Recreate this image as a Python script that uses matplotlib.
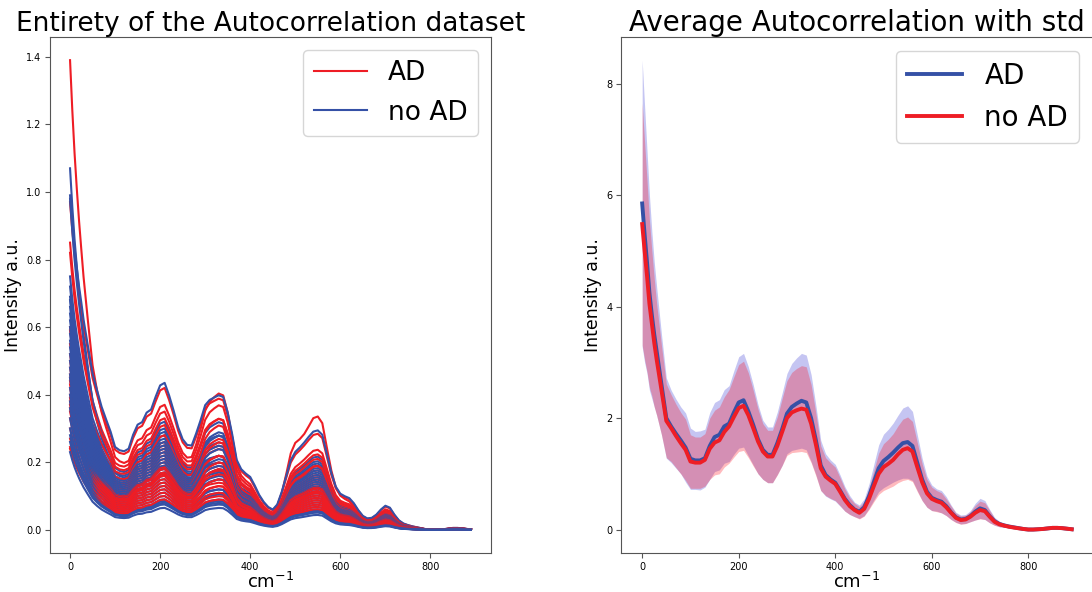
import numpy as np
import matplotlib
matplotlib.use("Agg")
import matplotlib.pyplot as plt

# ---------------- data ----------------
# wavenumber sampling (cm^-1)
wavenumber = np.concatenate([[0, 5, 10, 15, 20, 25, 30], np.arange(40, 900, 10)])

# right panel: class means and standard deviations
ad_mean = [5.85, 5.3, 4.8, 4.25, 3.85, 3.5, 3.2,
           2.6, 2.0, 1.85, 1.72, 1.6, 1.47, 1.27, 1.24, 1.24, 1.28,
           1.5, 1.66, 1.7, 1.85, 1.9, 2.1, 2.28, 2.32, 2.12, 1.88,
           1.62, 1.43, 1.34, 1.34, 1.55, 1.8, 2.08, 2.2, 2.26, 2.31,
           2.28, 2.0, 1.6, 1.15, 0.98, 0.9, 0.84, 0.7, 0.55, 0.44,
           0.36, 0.32, 0.4, 0.6, 0.85, 1.1, 1.23, 1.3, 1.38, 1.47,
           1.55, 1.57, 1.5, 1.2, 0.9, 0.68, 0.57, 0.53, 0.5, 0.42,
           0.31, 0.22, 0.18, 0.19, 0.24, 0.32, 0.38, 0.35, 0.24, 0.15,
           0.1, 0.075, 0.055, 0.04, 0.025, 0.01, 0.0, 0.0, 0.005, 0.01,
           0.02, 0.03, 0.03, 0.025, 0.015, 0.005]
ad_std = [2.57, 2.3, 2.0, 1.75, 1.5, 1.3, 1.15,
          0.9, 0.72, 0.65, 0.62, 0.6, 0.62, 0.55, 0.52, 0.53, 0.52,
          0.6, 0.62, 0.63, 0.66, 0.68, 0.75, 0.82, 0.84, 0.8, 0.72,
          0.62, 0.53, 0.5, 0.5, 0.56, 0.65, 0.72, 0.78, 0.82, 0.85,
          0.85, 0.78, 0.62, 0.45, 0.38, 0.35, 0.33, 0.28, 0.22, 0.17,
          0.13, 0.12, 0.15, 0.22, 0.32, 0.42, 0.48, 0.5, 0.53, 0.58,
          0.63, 0.65, 0.62, 0.5, 0.38, 0.28, 0.23, 0.2, 0.2, 0.17,
          0.13, 0.09, 0.08, 0.08, 0.1, 0.15, 0.18, 0.17, 0.12, 0.07,
          0.05, 0.035, 0.025, 0.018, 0.012, 0.008, 0.005, 0.005, 0.005, 0.006,
          0.008, 0.01, 0.01, 0.008, 0.006, 0.005]
noad_mean = [5.48, 5.0, 4.55, 4.05, 3.7, 3.35, 3.05,
             2.5, 1.95, 1.82, 1.68, 1.55, 1.43, 1.22, 1.2, 1.2, 1.25,
             1.45, 1.56, 1.6, 1.75, 1.85, 2.02, 2.18, 2.22, 2.05, 1.82,
             1.58, 1.4, 1.31, 1.31, 1.5, 1.75, 2.0, 2.1, 2.14, 2.17,
             2.15, 1.9, 1.52, 1.1, 0.95, 0.88, 0.82, 0.68, 0.53, 0.42,
             0.35, 0.3, 0.37, 0.55, 0.78, 1.0, 1.12, 1.18, 1.25, 1.35,
             1.43, 1.46, 1.4, 1.12, 0.85, 0.65, 0.55, 0.51, 0.48, 0.4,
             0.3, 0.21, 0.17, 0.18, 0.23, 0.3, 0.35, 0.33, 0.23, 0.14,
             0.095, 0.07, 0.05, 0.035, 0.022, 0.01, 0.0, 0.0, 0.005, 0.01,
             0.02, 0.03, 0.03, 0.025, 0.015, 0.005]
noad_std = [2.17, 1.95, 1.72, 1.5, 1.3, 1.15, 1.0,
            0.8, 0.66, 0.6, 0.57, 0.55, 0.55, 0.48, 0.46, 0.46, 0.47,
            0.55, 0.58, 0.6, 0.63, 0.66, 0.72, 0.78, 0.8, 0.76, 0.68,
            0.58, 0.5, 0.47, 0.47, 0.52, 0.6, 0.67, 0.72, 0.75, 0.77,
            0.77, 0.7, 0.56, 0.4, 0.34, 0.32, 0.3, 0.25, 0.2, 0.15,
            0.12, 0.11, 0.13, 0.19, 0.28, 0.37, 0.42, 0.44, 0.47, 0.51,
            0.55, 0.56, 0.54, 0.44, 0.33, 0.25, 0.21, 0.19, 0.18, 0.15,
            0.12, 0.085, 0.075, 0.075, 0.09, 0.13, 0.16, 0.15, 0.11, 0.065,
            0.045, 0.03, 0.022, 0.016, 0.011, 0.007, 0.005, 0.005, 0.005, 0.006,
            0.008, 0.01, 0.01, 0.008, 0.006, 0.005]

# left panel: individual spectra described by their start value (x=0),
# the height of the 210 cm^-1 band, and extra heights at 335 and 545 cm^-1
front_shape = [1.0, 0.86, 0.74, 0.64, 0.55, 0.47, 0.4, 0.28, 0.17, 0.11, 0.07,
               0.045, 0.025, 0.012, 0.005] + [0.0] * 78
band_front = [0.9, 0.9, 0.9, 0.9, 0.9, 0.9, 0.88, 0.86, 0.83]
mid_shape = [0.0] * 29 + [0.0, 0.05, 0.15, 0.35, 0.6, 0.8, 0.92, 1.0, 0.98, 0.8,
                          0.5, 0.25, 0.12, 0.06, 0.03, 0.0] + [0.0] * 48
bump_shape = [0.0] * 49 + [0.05, 0.15, 0.35, 0.6, 0.72, 0.72, 0.75, 0.85,
                           0.98, 1.0, 0.9, 0.62, 0.38, 0.2, 0.12, 0.08, 0.05, 0.02] + [0.0] * 26

ad_start = [1.39, 0.97, 0.85, 0.82, 0.60, 0.59, 0.55, 0.52, 0.50, 0.48, 0.46, 0.45, 0.44,
            0.43, 0.42, 0.40, 0.39, 0.38, 0.37, 0.36, 0.35, 0.33, 0.30, 0.27, 0.245, 0.24]
ad_peak = [0.37, 0.42, 0.35, 0.33, 0.31, 0.28, 0.26, 0.25, 0.24, 0.23, 0.22, 0.21, 0.20,
           0.19, 0.185, 0.18, 0.17, 0.165, 0.16, 0.15, 0.14, 0.13, 0.12, 0.11, 0.10, 0.09]
ad_mid = [0.035, -0.03, 0.02, 0.0, 0.02, 0.03, -0.01, 0.02, 0.0, 0.03, -0.02, 0.01, 0.02,
          0.0, -0.01, 0.02, 0.01, 0.0, 0.02, -0.01, 0.01, 0.0, 0.01, 0.0, 0.0, 0.0]
ad_bump = [0.085, 0.0, 0.0, 0.0, 0.0, 0.0, 0.0, 0.02, 0.0, 0.0, 0.0, 0.0, 0.0,
           0.0, 0.0, 0.0, 0.0, 0.0, 0.0, 0.0, 0.0, 0.0, 0.0, 0.0, 0.0, 0.0]

noad_start = [1.07, 0.99, 0.98, 0.75, 0.72, 0.69, 0.68, 0.66, 0.64, 0.62, 0.60, 0.58, 0.56, 0.54,
              0.52, 0.50, 0.48, 0.46, 0.45, 0.42, 0.40, 0.38, 0.36, 0.33, 0.30, 0.28, 0.26, 0.23]
noad_peak = [0.29, 0.435, 0.32, 0.30, 0.28, 0.27, 0.26, 0.25, 0.24, 0.23, 0.22, 0.21, 0.20, 0.19,
             0.18, 0.17, 0.16, 0.15, 0.14, 0.13, 0.12, 0.11, 0.10, 0.09, 0.085, 0.08, 0.075, 0.065]
noad_mid = [-0.01, -0.035, 0.0, -0.02, 0.01, -0.01, 0.02, 0.0, -0.02, 0.01, 0.0, -0.01, 0.01, 0.0,
            -0.01, 0.01, 0.0, 0.0, 0.01, -0.01, 0.0, 0.0, 0.005, 0.0, 0.0, 0.0, 0.0, 0.0]

# ---------------- styling ----------------
RED = "#ee1d25"
BLUE = "#3551a6"
SPINE = "#555555"

fig = plt.figure(figsize=(10.92, 5.92), dpi=100)
ax1 = fig.add_axes([50 / 1092, 1 - 553.3 / 592, 441 / 1092, (553.3 - 36.7) / 592])
ax2 = fig.add_axes([620.7 / 1092, 1 - 553.3 / 592, 472.5 / 1092, (553.3 - 36.7) / 592])

x = np.asarray(wavenumber, dtype=float)
profile = np.asarray(ad_mean) / ad_mean[24]
band = profile.copy()
band[:len(band_front)] = band_front
front = np.asarray(front_shape)
mid = np.asarray(mid_shape)
bump = np.asarray(bump_shape)

# ---- left panel ----
n = max(len(ad_start), len(noad_start))
for i in range(n):
    if i < len(ad_start):
        y = (ad_peak[i] * band + (ad_start[i] - ad_peak[i] * band[0]) * front
             + ad_mid[i] * mid + ad_bump[i] * bump)
        ax1.plot(x, y, color=RED, lw=1.5, label="AD" if i == 0 else None)
    if i < len(noad_start):
        y = (noad_peak[i] * band + (noad_start[i] - noad_peak[i] * band[0]) * front
             + noad_mid[i] * mid)
        ax1.plot(x, y, color=BLUE, lw=1.5, label="no AD" if i == 0 else None)

ax1.set_title("Entirety of the Autocorrelation dataset", fontsize=19, pad=1)
ax1.set_xlabel("cm$^{-1}$", fontsize=13, labelpad=0)
ax1.set_ylabel("Intensity a.u.", fontsize=12.5, labelpad=3)
ax1.set_yticks([0.0, 0.2, 0.4, 0.6, 0.8, 1.0, 1.2, 1.4])
ax1.set_xticks([0, 200, 400, 600, 800])
handles, labels = ax1.get_legend_handles_labels()
order = [labels.index("AD"), labels.index("no AD")]
ax1.legend([handles[k] for k in order], [labels[k] for k in order],
           fontsize=19, loc="upper right")

# ---- right panel ----
am, asd = np.asarray(ad_mean), np.asarray(ad_std)
nm, nsd = np.asarray(noad_mean), np.asarray(noad_std)
ax2.fill_between(x, am - asd, am + asd, color="#2a2ad0", alpha=0.27, lw=0)
ax2.fill_between(x, nm - nsd, nm + nsd, color="#ff0010", alpha=0.27, lw=0)
ax2.plot(x, am, color=BLUE, lw=2.8, label="AD")
ax2.plot(x, nm, color=RED, lw=2.8, label="no AD")
ax2.set_title("Average Autocorrelation with std", fontsize=20, pad=1)
ax2.set_xlabel("cm$^{-1}$", fontsize=13, labelpad=0)
ax2.set_ylabel("Intensity a.u.", fontsize=12.5, labelpad=3)
ax2.set_yticks([0, 2, 4, 6, 8])
ax2.set_xticks([0, 200, 400, 600, 800])
ax2.legend(fontsize=20, loc="upper right")

for ax in (ax1, ax2):
    ax.tick_params(labelsize=7, color=SPINE, pad=2.5)
    for s in ax.spines.values():
        s.set_color(SPINE)

fig.savefig("out.png", dpi=100)
